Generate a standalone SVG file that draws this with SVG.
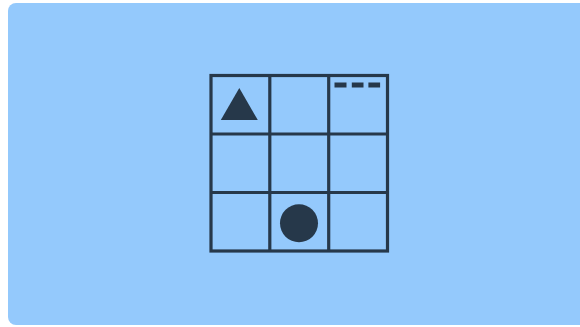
<svg xmlns="http://www.w3.org/2000/svg" width="580" height="327" viewBox="0 0 580 327">
  <style>
    .grid { fill: none; stroke: #26384a; stroke-width: 3.2; }
    .shape { fill: #26384a; }
  </style>
  <rect x="0" y="0" width="580" height="327" fill="#ffffff"/>
  <rect id="background" x="8" y="3" width="590" height="322" rx="8" ry="8" fill="#94c9fc"/>
  <g id="grid">
    <rect class="grid" x="211" y="75.5" width="176.5" height="175.5"/>
    <line class="grid" x1="269.8" y1="75.5" x2="269.8" y2="251"/>
    <line class="grid" x1="328.7" y1="75.5" x2="328.7" y2="251"/>
    <line class="grid" x1="211" y1="134" x2="387.5" y2="134"/>
    <line class="grid" x1="211" y1="192.5" x2="387.5" y2="192.5"/>
  </g>
  <g id="triangle">
    <polygon class="shape" points="239.3,88 220.8,120 257.8,120"/>
  </g>
  <g id="dashes">
    <rect class="shape" x="334.5" y="82.5" width="12" height="5"/>
    <rect class="shape" x="351.8" y="82.5" width="11.7" height="5"/>
    <rect class="shape" x="368.4" y="82.5" width="11.7" height="5"/>
  </g>
  <g id="circle">
    <circle class="shape" cx="299" cy="223.3" r="19"/>
  </g>
  <g id="connectors"/>
</svg>
